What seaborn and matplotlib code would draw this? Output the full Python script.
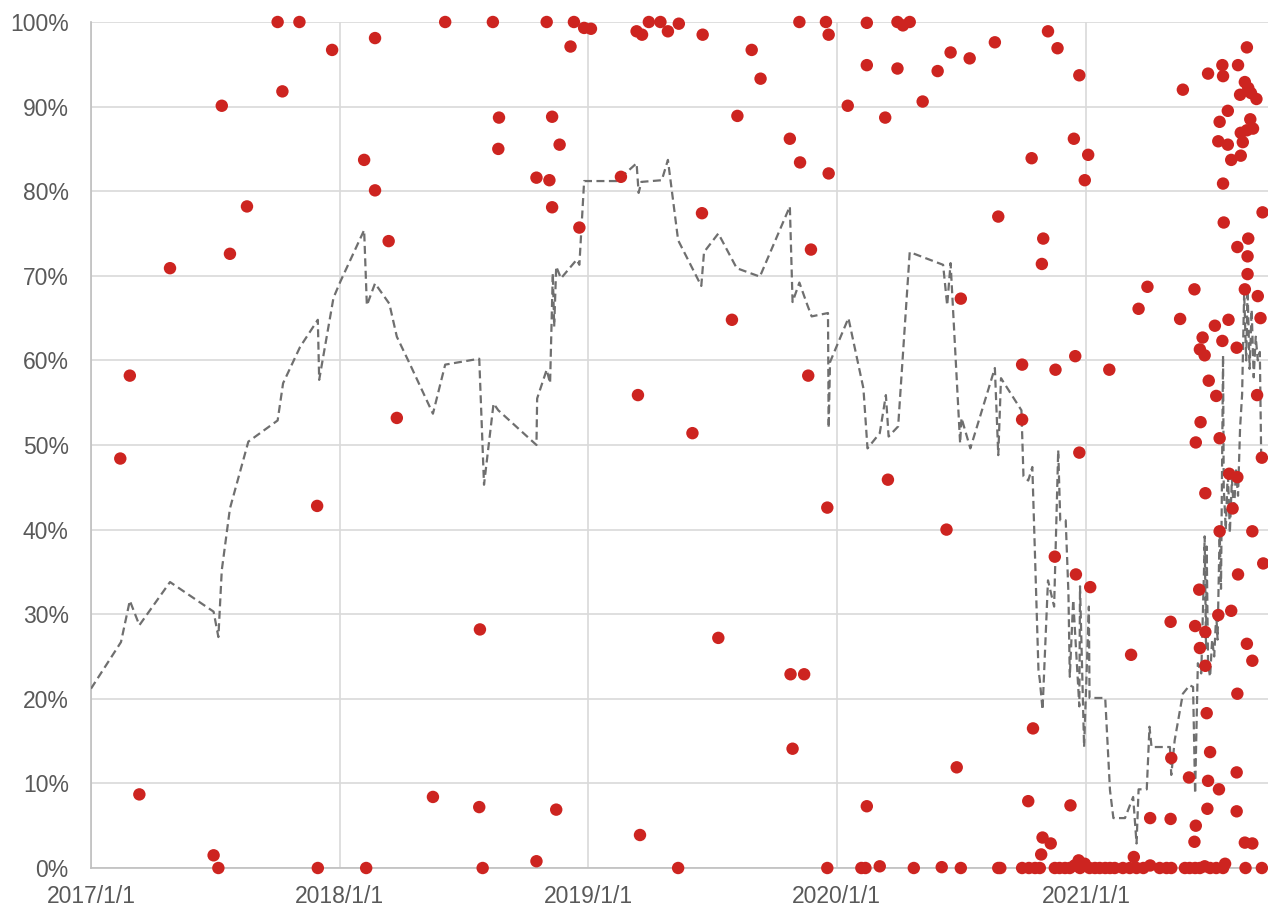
import matplotlib
matplotlib.use("Agg")
import matplotlib.pyplot as plt
import matplotlib.dates as mdates
import matplotlib.ticker as mticker
import numpy as np
import pandas as pd
import seaborn as sns

# ---------------- data ----------------
start_date = "2017-01-01"
x_end_days = 1728          # right end of the date axis (days since start_date)
x_tick_dates = ["2017-01-01", "2018-01-01", "2019-01-01", "2020-01-01", "2021-01-01"]
y_ticks = [0, 10, 20, 30, 40, 50, 60, 70, 80, 90, 100]

# scatter series: days since start_date, value in %
dot_days = [
    274, 306, 354, 281, 192, 229, 204, 116, 57, 43, 332, 71, 180, 187, 333,
    417, 520, 590, 669, 709, 724, 734, 704, 801, 809,
    819, 836, 847, 599, 677, 401, 598, 688, 417, 654,
    673, 778, 677, 717, 437, 449, 803, 571, 502, 570,
    683, 806, 404, 575, 654,
    863, 898, 970, 983, 949, 1026, 1041, 1083, 1040, 1079,
    1083, 1139, 1184, 1192, 1202, 1139, 1184, 1327, 1262, 1290,
    1243, 1111, 1166, 1221, 897, 1332, 1057, 1277, 941, 1053,
    883, 1170, 1081, 1256, 921, 1027, 1047, 1030, 1271, 1139,
    862, 1081, 1131, 1137, 1158, 1208, 1249, 1277, 1332,
    1405, 1419, 1451, 1443, 1381, 1464, 1459, 1398, 1396, 1551,
    1620, 1697, 1661, 1684, 1640, 1662, 1694, 1699, 1687, 1703,
    1711, 1603, 1669, 1657, 1702, 1706, 1697, 1688, 1655, 1669,
    1691, 1688, 1674, 1662, 1720, 1663, 1699, 1683, 1698, 1698,
    1694, 1713,
    1538, 1599, 1670, 1717, 1650, 1632, 1661, 1682, 1628, 1635,
    1445, 1367, 1416, 1495, 1641, 1652, 1712, 1367, 1629, 1622,
    1657, 1451, 1719, 1671, 1683, 1636, 1676, 1657, 1705, 1721,
    1684, 1415, 1446, 1467, 1627,
    1674, 1655, 1585, 1621, 1636, 1628, 1697, 1705, 1636, 1527,
    1683, 1383, 1638, 1643, 1586, 1682, 1612, 1640, 1656, 1376,
    1438, 1639, 1682, 1555, 1585, 1622, 1397, 1409, 1620, 1694,
    1705, 1395, 1531, 1450,
    1335, 1367, 1377, 1386, 1393, 1415, 1422, 1430, 1437, 1444,
    1452, 1459, 1466, 1474, 1481, 1489, 1496, 1503, 1515, 1525,
    1535, 1545, 1555, 1569, 1579, 1586, 1606, 1613, 1621, 1628,
    1635, 1643, 1652, 1662, 1665, 1695, 1719,
]
dot_pct = [
    100, 100, 96.7, 91.8, 90.1, 78.2, 72.6, 70.9, 58.2, 48.4, 42.8, 8.7, 1.5, 0, 0,
    98.1, 100, 100, 100, 100, 99.3, 99.2, 97.1, 98.9, 98.5,
    100, 100, 98.9, 88.7, 88.8, 83.7, 85.0, 85.5, 80.1, 81.6,
    81.3, 81.7, 78.1, 75.7, 74.1, 53.2, 55.9, 28.2, 8.4, 7.2,
    6.9, 3.9, 0, 0, 0.8,
    99.8, 98.5, 96.7, 93.3, 88.9, 86.2, 83.4, 82.1, 100, 100,
    98.5, 99.9, 100, 99.6, 100, 94.9, 94.5, 97.6, 96.4, 95.7,
    94.2, 90.1, 88.7, 90.6, 77.4, 77.0, 73.1, 67.3, 64.8, 58.2,
    51.4, 45.9, 42.6, 40.0, 27.2, 22.9, 22.9, 14.1, 11.9, 7.3,
    0, 0, 0, 0, 0.2, 0, 0.1, 0, 0,
    98.9, 96.9, 93.7, 86.2, 83.9, 84.3, 81.3, 74.4, 71.4, 68.7,
    68.4, 97.0, 94.9, 94.9, 93.9, 93.6, 92.9, 92.2, 91.4, 91.6,
    90.9, 92.0, 89.5, 88.2, 88.5, 87.4, 87.2, 86.9, 85.9, 85.5,
    85.8, 84.2, 83.7, 80.9, 77.5, 76.3, 74.4, 73.4, 72.3, 70.2,
    68.4, 67.6,
    66.1, 64.9, 64.8, 65.0, 64.1, 62.7, 62.3, 61.5, 61.3, 60.6,
    60.5, 59.5, 58.9, 58.9, 57.6, 55.8, 55.9, 53.0, 52.7, 50.3,
    50.8, 49.1, 48.5, 46.6, 46.2, 44.3, 42.5, 39.8, 39.8, 36.0,
    34.7, 36.8, 34.7, 33.2, 32.9,
    30.4, 29.9, 29.1, 28.6, 27.9, 26.0, 26.5, 24.5, 23.9, 25.2,
    20.6, 16.5, 18.3, 13.7, 13.0, 11.3, 10.7, 10.3, 9.3, 7.9,
    7.4, 7.0, 6.7, 5.9, 5.8, 5.0, 3.6, 2.9, 3.1, 3.0,
    2.9, 1.6, 1.3, 0.9,
    0, 0, 0, 0, 0, 0, 0, 0, 0, 0.3,
    0, 0.5, 0, 0, 0, 0, 0, 0, 0, 0,
    0, 0, 0.3, 0, 0, 0, 0, 0, 0, 0,
    0.2, 0, 0, 0, 0.5, 0, 0,
]

# dashed trend series: days since start_date, value in %
line_days = [
    0, 44, 57, 71, 116, 180, 187, 192, 204, 231,
    274, 282, 307, 333, 335, 356, 366, 401, 405, 417,
    438, 449, 468, 502, 520, 570, 577, 591, 598, 654,
    655, 669, 674, 678, 680, 683, 690, 713, 717, 724,
    772, 801, 804, 808, 838, 847, 862, 896, 900, 921,
    948, 982, 1026, 1030, 1040, 1051, 1058, 1082, 1083, 1085,
    1112, 1134, 1140, 1158, 1167, 1171, 1185, 1202, 1251, 1257,
    1262, 1276, 1278, 1291, 1327, 1332, 1336, 1366, 1369, 1376,
    1382, 1391, 1393, 1397, 1405, 1414, 1420, 1423, 1431, 1435,
    1437, 1442, 1451, 1452, 1458, 1465, 1466, 1489, 1496, 1501,
    1518, 1530, 1535, 1538, 1550, 1554, 1557, 1584, 1586, 1591,
    1603, 1613, 1618, 1621, 1625,
    1630, 1634, 1635, 1637, 1638, 1640, 1643, 1646, 1649, 1652,
    1654, 1657, 1659, 1662, 1663, 1666, 1669, 1672, 1675, 1678,
    1681, 1684, 1687, 1690, 1693, 1696, 1698, 1701, 1704, 1707,
    1710, 1713, 1716, 1718,
]
line_pct = [
    21.2, 26.7, 31.6, 28.7, 33.8, 30.3, 27.3, 35.2, 42.5, 50.4,
    52.9, 57.3, 61.6, 64.8, 57.7, 67.4, 69.3, 75.4, 66.5, 69.1,
    66.7, 62.8, 59.6, 53.7, 59.5, 60.2, 45.3, 54.9, 54.1, 50.0,
    55.5, 58.9, 57.3, 70.3, 64.0, 71.1, 69.7, 71.9, 71.3, 81.2,
    81.2, 83.3, 79.8, 81.1, 81.3, 83.7, 74.2, 68.8, 72.8, 75.0,
    70.9, 69.9, 78.2, 66.9, 69.2, 66.7, 65.2, 65.6, 52.0, 59.8,
    65.0, 56.7, 49.6, 51.4, 55.9, 51.0, 52.2, 72.8, 71.3, 66.5,
    71.5, 50.2, 53.2, 49.6, 59.1, 48.8, 57.9, 54.1, 46.3, 45.8,
    47.4, 23.4, 22.2, 18.7, 34.0, 30.9, 49.4, 41.1, 41.1, 32.5,
    22.6, 31.7, 19.1, 33.3, 14.3, 30.9, 20.1, 20.1, 9.2, 5.9,
    5.9, 8.4, 2.9, 9.3, 9.3, 16.7, 14.3, 14.3, 11.0, 15.1,
    20.6, 21.6, 21.4, 8.8, 24.2,
    23, 35, 39.2, 26, 38, 24, 22.6, 27, 25, 30,
    27, 40, 33, 60.6, 45, 40, 47, 39.6, 46, 42,
    47, 44, 52, 56, 68, 60, 68.4, 59, 66, 58,
    62.8, 60, 61, 48.6,
]

assert len(dot_days) == len(dot_pct)
assert len(line_days) == len(line_pct)

# ---------------- build frames ----------------
base = pd.Timestamp(start_date)
dots = pd.DataFrame({"date": base + pd.to_timedelta(dot_days, unit="D"), "pct": dot_pct})
trend = pd.DataFrame({"date": base + pd.to_timedelta(line_days, unit="D"), "pct": line_pct})

# ---------------- style ----------------
sns.set_theme(style="white")
plt.rcParams["font.family"] = ["Liberation Sans", "DejaVu Sans"]

W, H = 1268, 907
fig = plt.figure(figsize=(W / 100, H / 100), dpi=100)
ax = fig.add_axes([91 / W, 39 / H, (W - 91) / W, (868 - 22) / H])

grid_c = "#D9D9D9"
text_c = "#595959"
red = "#CD2420"
gray = "#6F6F6F"

sns.lineplot(data=trend, x="date", y="pct", ax=ax, sort=False, estimator=None,
             color=gray, linewidth=1.6, linestyle=(0, (3.6, 2.0)), zorder=3)
sns.scatterplot(data=dots, x="date", y="pct", ax=ax, color=red, s=80,
                edgecolor="none", linewidth=0, zorder=4, clip_on=False)

ax.set_xlim(base, base + pd.Timedelta(days=x_end_days))
ax.set_ylim(0, 100)
ax.set_xticks(pd.to_datetime(x_tick_dates))
ax.xaxis.set_major_formatter(mdates.DateFormatter("%Y/%-m/%-d"))
ax.set_yticks(y_ticks)
ax.yaxis.set_major_formatter(mticker.FuncFormatter(lambda v, p: f"{v:.0f}%"))

ax.grid(True, color=grid_c, linewidth=1.2, zorder=0)
ax.set_axisbelow(True)
for side in ["top", "right"]:
    ax.spines[side].set_visible(False)
for side in ["left", "bottom"]:
    ax.spines[side].set_color("#BFBFBF")
    ax.spines[side].set_linewidth(1.2)

ax.tick_params(axis="both", length=0, labelsize=16.5, labelcolor=text_c)
ax.tick_params(axis="y", pad=16)
ax.tick_params(axis="x", pad=12.5)
ax.set_xlabel("")
ax.set_ylabel("")

fig.savefig("out.png", dpi=100)
